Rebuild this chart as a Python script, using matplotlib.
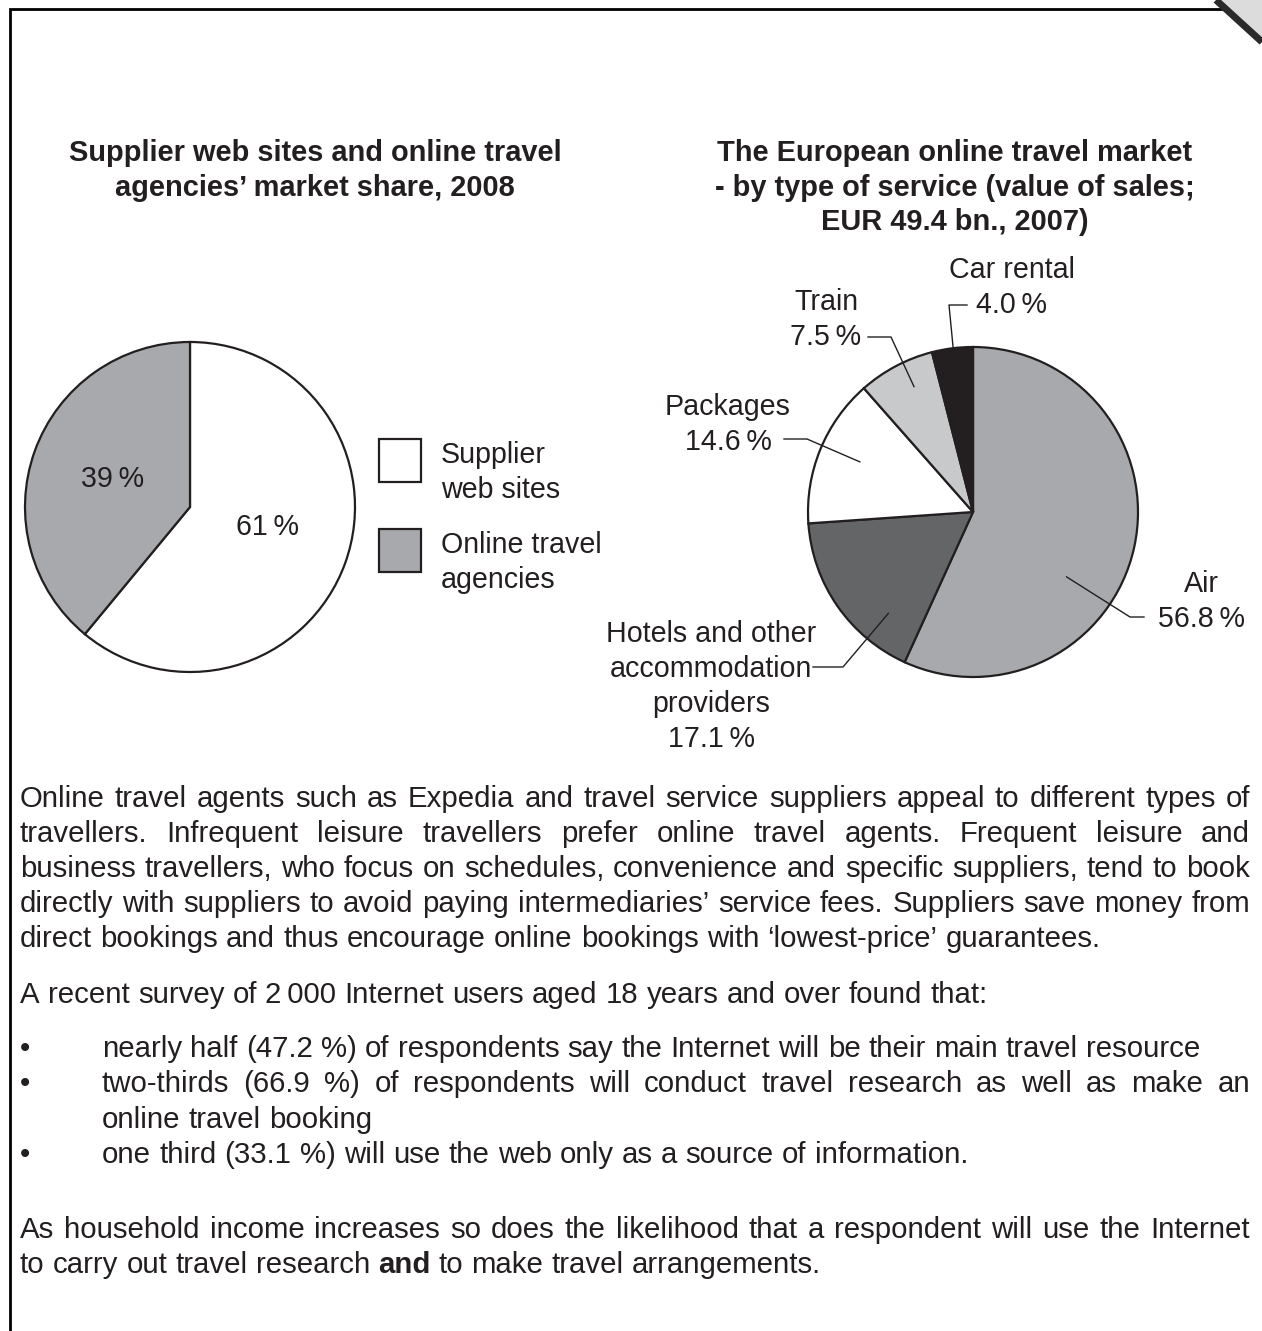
import matplotlib.pyplot as plt
import numpy as np

plt.rcParams['font.family'] = ['Liberation Sans', 'DejaVu Sans']

# --- data ---
share_labels = ['Supplier\nweb sites', 'Online travel\nagencies']
share_values = [61, 39]
share_colors = ['#ffffff', '#a7a9ac']

service_names = ['Air', 'Hotels and other\naccommodation\nproviders', 'Packages', 'Train', 'Car rental']
service_values = [56.8, 17.1, 14.6, 7.5, 4.0]
service_colors = ['#a7a9ac', '#646567', '#ffffff', '#c8c9cb', '#231f20']

title_left = ['Supplier web sites and online travel', 'agencies\u2019 market share, 2008']
title_right = ['The European online travel market', '- by type of service (value of sales;', 'EUR 49.4 bn., 2007)']

para1 = ['Online travel agents such as Expedia and travel service suppliers appeal to different types of',
         'travellers. Infrequent leisure travellers prefer online travel agents. Frequent leisure and',
         'business travellers, who focus on schedules, convenience and specific suppliers, tend to book',
         'directly with suppliers to avoid paying intermediaries\u2019 service fees. Suppliers save money from',
         'direct bookings and thus encourage online bookings with \u2018lowest-price\u2019 guarantees.']
para2 = 'A recent survey of 2\u2009000 Internet users aged 18 years and over found that:'
bullets = [['nearly half (47.2 %) of respondents say the Internet will be their main travel resource'],
           ['two-thirds (66.9 %) of respondents will conduct travel research as well as make an',
            'online travel booking'],
           ['one third (33.1 %) will use the web only as a source of information.']]
para3 = ['As household income increases so does the likelihood that a respondent will use the Internet',
         'to carry out travel research **and** to make travel arrangements.']

W, H = 1262, 1331
BODY = 21.2
LAB = 20.6
TITLE = 20.9
INK = '#231f20'

fig = plt.figure(figsize=(W / 100, H / 100), dpi=100)
bg = fig.add_axes([0, 0, 1, 1])
bg.set_xlim(0, W)
bg.set_ylim(H, 0)
bg.axis('off')
renderer = fig.canvas.get_renderer()

# page border and curled corner
bg.plot([10, 10, 1222], [H, 9, 9], color='black', lw=2.0, solid_joinstyle='miter')
bg.fill([1216, W, W], [0, 0, 42], color='#dcdcdc', lw=0)
bg.plot([1216, W], [0, 42], color='#2a2a2a', lw=5, solid_capstyle='butt')


def pie_axes(cx, cy, r):
    return fig.add_axes([(cx - r) / W, (H - cy - r) / H, 2 * r / W, 2 * r / H])


def words_line(line, x0, x1, y, justify, size=BODY):
    # split into (word, weight) and place word by word
    parts = []
    for w in line.split(' '):
        if w.startswith('**') and w.endswith('**'):
            parts.append((w[2:-2], 'bold'))
        else:
            parts.append((w, 'normal'))
    texts = []
    widths = []
    for w, wt in parts:
        t = bg.text(0, y, w, fontsize=size, weight=wt, color=INK, va='baseline', ha='left')
        texts.append(t)
        widths.append(t.get_window_extent(renderer).width)
    if justify and len(parts) > 1:
        gap = (x1 - x0 - sum(widths)) / (len(parts) - 1)
    else:
        gap = 0.278 * size * 100 / 72
    x = x0
    for t, wd in zip(texts, widths):
        t.set_x(x)
        x += wd + gap


# --- left pie ---
ax1 = pie_axes(190, 507, 165)
wedges1, _, autot = ax1.pie(share_values, colors=share_colors, startangle=90, counterclock=False,
                            autopct=lambda p: f'{p:.0f}\u2009%', pctdistance=0.5,
                            wedgeprops=dict(edgecolor=INK, linewidth=1.6))
for t in autot:
    t.set_fontsize(LAB)
    t.set_color(INK)
# nudge the larger slice's label up a little, as in the original
px, py = autot[0].get_position()
autot[0].set_position((px, py + 0.05))
ax1.set_aspect('auto')
ax1.set_xlim(-1, 1)
ax1.set_ylim(-1, 1)

# legend boxes
for i, (lab, col) in enumerate(zip(share_labels, share_colors)):
    top = 439 + i * 90
    bg.add_patch(plt.Rectangle((379, top), 42, 43, facecolor=col, edgecolor=INK, lw=1.6))
    for j, ln in enumerate(lab.split('\n')):
        bg.text(441, top + 16 + j * 35, ln, fontsize=LAB, color=INK, va='center', ha='left')

# --- right pie ---
ax2 = pie_axes(973, 512, 165)
wedges2, _ = ax2.pie(service_values, colors=service_colors, startangle=90, counterclock=False,
                     wedgeprops=dict(edgecolor=INK, linewidth=1.6))
ax2.set_aspect('auto')
ax2.set_xlim(-1, 1)
ax2.set_ylim(-1, 1)

# label layout: anchor (fraction through wedge, radius), leader path (px), text centre x, first line y (px)
label_layout = [
    (0.61, 0.69, [(1130, 617), (1144, 617)], 1201, 584),
    (0.25, 0.80, [(843, 667), (813, 667)], 711, 634),
    (0.53, 0.75, [(807, 439), (784, 439)], 728, 407),
    (0.60, 0.84, [(891, 337), (868, 337)], 826, 302),
    (0.52, 0.99, [(949, 305), (967, 305)], 1012, 270),
]
to_ax2 = ax2.transData.inverted()
for wdg, name, val, (frac, rad, path, tx, ty) in zip(wedges2, service_names, service_values, label_layout):
    ang = np.deg2rad(wdg.theta2 - frac * (wdg.theta2 - wdg.theta1))
    pts = [(rad * np.cos(ang), rad * np.sin(ang))]
    for p in path:
        pts.append(tuple(to_ax2.transform(bg.transData.transform(p))))
    pts = np.array(pts)
    ax2.plot(pts[:, 0], pts[:, 1], color=INK, lw=1.0, clip_on=False)
    lines = name.split('\n') + [f'{val:.1f}\u2009%']
    for j, ln in enumerate(lines):
        bg.text(tx, ty + j * 35, ln, fontsize=LAB, color=INK, va='center', ha='center')

# titles
for j, ln in enumerate(title_left):
    bg.text(315, 153 + j * 34.5, ln, fontsize=TITLE, weight='bold', color=INK, va='center', ha='center')
for j, ln in enumerate(title_right):
    bg.text(955, 153 + j * 34.5, ln, fontsize=TITLE, weight='bold', color=INK, va='center', ha='center')

# --- body text ---
L, R = 20, 1250
off = 10
for j, ln in enumerate(para1):
    words_line(ln, L, R, 797 + j * 35 + off, j < len(para1) - 1)
words_line(para2, L, R, 993 + off, False)
y = 1047
for b in bullets:
    bg.text(20, y + off, '\u2022', fontsize=BODY, color=INK, va='baseline', ha='left')
    for j, ln in enumerate(b):
        words_line(ln, 102, R, y + off, j < len(b) - 1)
        y += 35.3
for j, ln in enumerate(para3):
    words_line(ln, L, R, 1228 + j * 35 + off, j < len(para3) - 1)

fig.savefig('out.png', dpi=100)
